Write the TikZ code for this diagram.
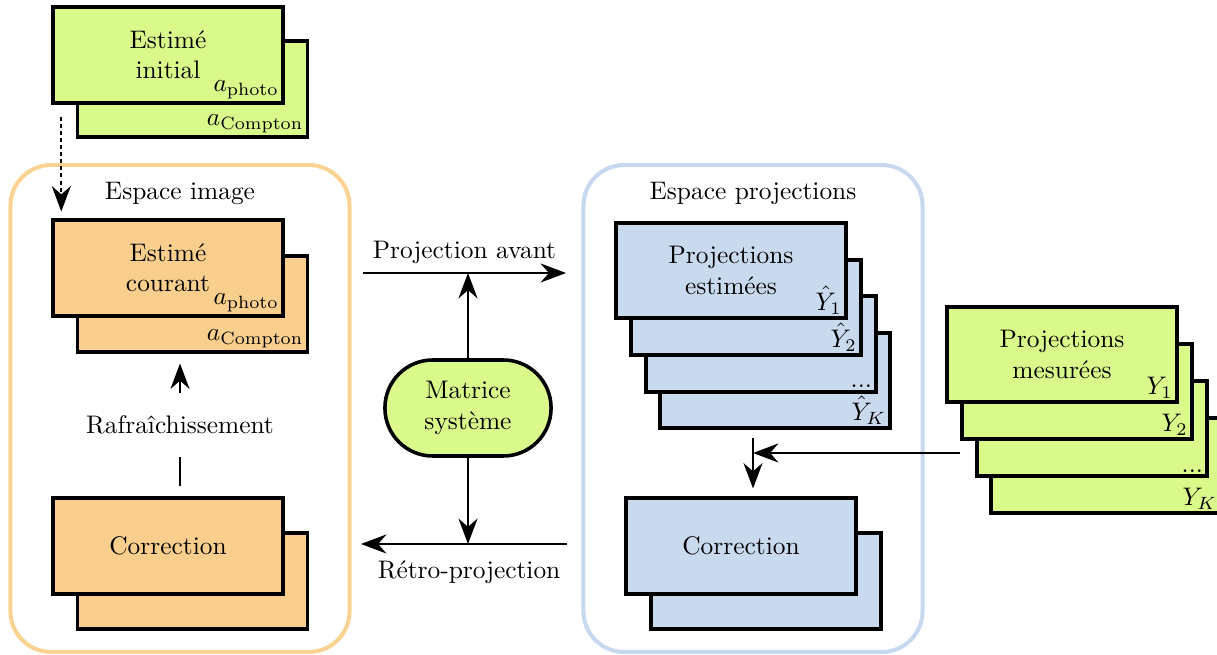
\documentclass[tikz,border=0pt]{standalone}
\usepackage{amsmath}
\usetikzlibrary{arrows.meta,positioning,calc}
\definecolor{lime}{HTML}{DAF98B}
\definecolor{peach}{HTML}{FACF8E}
\definecolor{sky}{HTML}{C9D9EE}
\definecolor{peachline}{HTML}{FAD291}
\definecolor{skyline}{HTML}{C8D8EE}

\begin{document}
\begin{tikzpicture}[x=0.3937pt, y=-0.3937pt,
  card/.style={draw, line width=1.4pt, minimum width=90.5pt, minimum height=37.6pt,
    align=center, inner sep=0pt},
  tag/.style={anchor=south east, inner sep=0.3pt, xshift=-1.8pt, yshift=1.8pt},
  space/.style={draw, line width=1.6pt, rounded corners=16pt,
    minimum width=133.5pt, minimum height=191.7pt},
  arr/.style={thick, -{Stealth[length=10pt,width=7.5pt]}}]
  \useasboundingbox (0,0) rectangle (1217,655);

  % the two spaces
  \node[space, draw=peachline] (imgspace) at (180,408.5) {};
  \node[space, draw=skyline] (projspace) at (753,408.5) {};
  \node (imglab) at (180,193) {Espace image};
  \node (projlab) at (753,193) {Espace projections};

  % initial estimate
  \node[card, fill=lime] (init2) at (192.5,89) {};
  \node[tag] at (init2.south east) {$a_{\mathrm{Compton}}$};
  \node[card, fill=lime] (init) at (168,55) {Estimé\\initial};
  \node[tag] at (init.south east) {$a_{\mathrm{photo}}$};

  % current estimate
  \node[card, fill=peach] (cur2) at (192.5,304) {};
  \node[tag] at (cur2.south east) {$a_{\mathrm{Compton}}$};
  \node[card, fill=peach] (cur) at (168,268) {Estimé\\courant};
  \node[tag] at (cur.south east) {$a_{\mathrm{photo}}$};

  % image correction
  \node[card, fill=peach] (corL2) at (192.5,581) {};
  \node[card, fill=peach] (corL) at (168,546) {Correction};

  % estimated projections
  \node[card, fill=sky] (est4) at (775,380.5) {};
  \node[tag] at (est4.south east) {$\hat{Y}_K$};
  \node[card, fill=sky] (est3) at (761,344) {};
  \node[tag] at (est3.south east) {...};
  \node[card, fill=sky] (est2) at (746,307.5) {};
  \node[tag] at (est2.south east) {$\hat{Y}_2$};
  \node[card, fill=sky] (est1) at (731,270.5) {Projections\\estimées};
  \node[tag] at (est1.south east) {$\hat{Y}_1$};

  % projection correction
  \node[card, fill=sky] (corR2) at (766,581) {};
  \node[card, fill=sky] (corR) at (741,546) {Correction};

  % measured projections
  \node[card, fill=lime] (mes4) at (1106,465.5) {};
  \node[tag] at (mes4.south east) {$Y_K$};
  \node[card, fill=lime] (mes3) at (1092,428.5) {};
  \node[tag] at (mes3.south east) {...};
  \node[card, fill=lime] (mes2) at (1077,391.5) {};
  \node[tag] at (mes2.south east) {$Y_2$};
  \node[card, fill=lime] (mes1) at (1062,354.5) {Projections\\mesurées};
  \node[tag] at (mes1.south east) {$Y_1$};

  % system matrix
  \node[draw, line width=1.4pt, fill=lime, rounded corners=18.8pt, minimum width=65.4pt,
    minimum height=37.8pt, align=center] (mat) at (468,408) {Matrice\\système};

  % connectors
  \draw[arr, dash pattern=on 1.6pt off 1.2pt]
    ($(init.south west)+(10,12)$) -- ($(cur.north west)+(10,-7)$);
  \draw[arr] ($(corL.north)+(12,-10)$) --
    node[fill=white, inner xsep=1pt, inner ysep=9pt] (refresh) {Rafraîchissement}
    ($(cur.south)+(12,46)$);

  \coordinate (fwdin) at (363,273);
  \coordinate (fwdout) at (566,273);
  \draw[arr] (fwdin) -- node[above] (fwdlab) {Projection avant} (fwdout);
  \draw[arr] (mat.north) -- (mat.north |- fwdin);

  \coordinate (bwdin) at (567,544);
  \coordinate (bwdout) at (361,544);
  \draw[arr] (bwdin) -- node[below=3pt, xshift=2pt] (bwdlab) {Rétro-projection} (bwdout);
  \draw[arr] (mat.south) -- (mat.south |- bwdin);

  \coordinate (mesin) at (960,453);
  \coordinate (join) at (753,453);
  \coordinate (jointop) at (753,438);
  \draw[arr] (mesin) -- (join);
  \draw[arr] (jointop) -- ($(join |- corR.north)+(0,-8)$);
\end{tikzpicture}
\end{document}
